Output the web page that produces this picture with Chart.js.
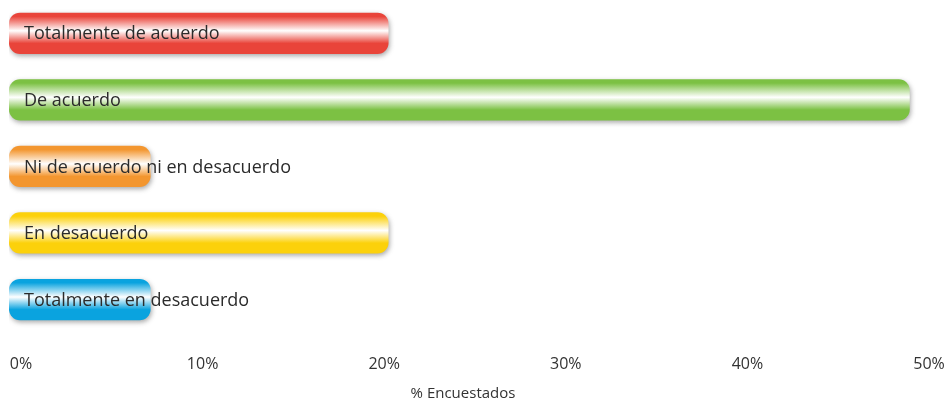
<!DOCTYPE html>
<html>
<head>
<meta charset="utf-8">
<script src="https://cdn.jsdelivr.net/npm/chart.js@4/dist/chart.umd.min.js"></script>
<style>
  body { margin: 0; background: #fff; }
  #wrap { width: 946px; height: 403px; }
</style>
</head>
<body>
<div id="wrap"><canvas id="chartjs-0" width="946" height="403"></canvas></div>
<script>
// categories and values (% of respondents)
var categories = ["Totalmente de acuerdo", "De acuerdo", "Ni de acuerdo ni en desacuerdo", "En desacuerdo", "Totalmente en desacuerdo"];
var values = [20.9, 49.6, 7.8, 20.9, 7.8];
var barColors = ["#e9443a", "#7cc143", "#f3962f", "#fcd10b", "#0aa3df"];
var tickLabels = ["0%", "10%", "20%", "30%", "40%", "50%"];

var FONT = "'Open Sans', sans-serif";

/* glossy gradient for each bar, built from the y scale */
function glossy(context) {
    let chart = context.chart;
    let base = barColors[context.dataIndex];
    let yScale = chart.scales.y;
    if (!chart.chartArea || !yScale) {
        return base;
    }
    let centre = yScale.getPixelForValue(context.dataIndex);
    let half = 21;
    let g = chart.ctx.createLinearGradient(0, centre - half, 0, centre + half);
    g.addColorStop(0, base);
    g.addColorStop(0.1, base);
    g.addColorStop(0.44, "#ffffff");
    g.addColorStop(0.74, base);
    g.addColorStop(1, base);
    return g;
}

/* drop shadow under the bars */
var shadowPlugin = {
    id: "shadow",
    beforeDatasetDraw: function(chart) {
        let c = chart.ctx;
        c.save();
        c.shadowColor = "rgba(60,60,60,0.45)";
        c.shadowBlur = 5;
        c.shadowOffsetX = 1;
        c.shadowOffsetY = 2;
    },
    afterDatasetDraw: function(chart) {
        chart.ctx.restore();
    }
};

/* category names written inside the bars */
var labelPlugin = {
    id: "barLabels",
    afterDatasetsDraw: function(chart) {
        let c = chart.ctx;
        let yScale = chart.scales.y;
        c.save();
        c.font = "18px " + FONT;
        c.fillStyle = "#2b2b2b";
        c.textBaseline = "middle";
        c.textAlign = "left";
        for (let i = 0; i < categories.length; i++) {
            c.fillText(categories[i], chart.chartArea.left + 15, yScale.getPixelForValue(i) + 1);
        }
        c.restore();
    }
};

var ctx0 = document.getElementById("chartjs-0");
var myChart0 = new Chart(ctx0, {
    type: "bar",
    data: {
        labels: categories,
        datasets: [{
            data: values,
            backgroundColor: glossy,
            borderWidth: 0,
            borderRadius: 11,
            borderSkipped: false,
            barPercentage: 0.62,
            categoryPercentage: 1
        }]
    },
    plugins: [shadowPlugin, labelPlugin],
    options: {
        indexAxis: "y",
        responsive: false,
        animation: false,
        layout: { padding: { left: 9, right: 29, top: 0, bottom: 0 } },
        plugins: {
            legend: { display: false },
            tooltip: { enabled: false }
        },
        scales: {
            y: {
                display: false
            },
            x: {
                min: 0,
                max: 50,
                afterFit: function(scale) {
                    scale.paddingLeft = 0;
                    scale.paddingRight = 0;
                },
                grid: { display: false, drawTicks: false },
                border: { display: false },
                ticks: {
                    stepSize: 10,
                    padding: 22,
                    labelOffset: 12,
                    color: "#333",
                    font: { family: FONT, size: 16 },
                    callback: function(value, index) { return tickLabels[index]; }
                },
                title: {
                    display: true,
                    text: "% Encuestados",
                    color: "#333",
                    font: { family: FONT, size: 15 },
                    padding: { top: -11, bottom: 0 }
                }
            }
        }
    }
});
</script>
</body>
</html>
